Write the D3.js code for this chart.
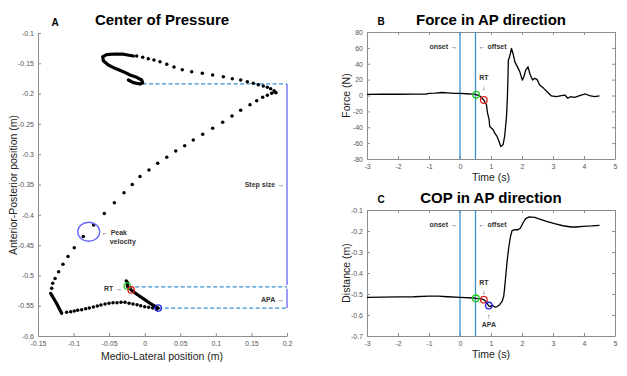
<!DOCTYPE html>
<html>
<head>
<meta charset="utf-8">
<script src="https://cdn.jsdelivr.net/npm/d3@7"></script>
<style>
  body { margin: 0; background: #fff; }
  text { font-family: "Liberation Sans", Arial, sans-serif; }
</style>
</head>
<body>
<svg id="fig"></svg>
<script>
const width = 627, height = 376;

// ---- Panel A: COP trajectory (m) ----
// quiet stance -> RT -> APA (dense samples)
const stanceX = [-0.026, -0.024, -0.0245, -0.019, -0.01, 0, 0.01, 0.019];
const stanceY = [-0.509, -0.512, -0.5175, -0.524, -0.532, -0.540, -0.548, -0.554];
// APA back to the corner (sparse samples)
const returnX = [0.0168, 0.0112, 0.0056, 0, -0.0056, -0.0108, -0.0165, -0.022, -0.0277, -0.0333, -0.039, -0.0446,
                 -0.0502, -0.0558, -0.0615, -0.0666, -0.0722, -0.0779, -0.083, -0.0886, -0.0942, -0.099, -0.104, -0.1097];
const returnY = [-0.556, -0.554, -0.5526, -0.5516, -0.550, -0.5483, -0.5472, -0.546, -0.5443, -0.5443, -0.545, -0.545,
                 -0.546, -0.5472, -0.5488, -0.5505, -0.552, -0.5538, -0.555, -0.5565, -0.5575, -0.5587, -0.56, -0.561];
// corner (dense)
const cornerX = [-0.1167, -0.124, -0.1322];
const cornerY = [-0.5625, -0.546, -0.5297];
// swing up to the step peak (sparse)
const swingX = [-0.1307, -0.1293, -0.126, -0.121, -0.1149, -0.1078, -0.099, -0.0863, -0.0717, -0.0568, -0.0427,
                -0.0291, -0.0175, -0.0066, 0.006, 0.0183, 0.031, 0.0436, 0.0562, 0.0683, 0.0815, 0.0955, 0.1096,
                0.1227, 0.1349, 0.148, 0.1574, 0.1658, 0.1723, 0.1785, 0.183];
const swingY = [-0.521, -0.513, -0.505, -0.494, -0.4817, -0.469, -0.4542, -0.436, -0.4168, -0.398, -0.380,
                -0.3635, -0.350, -0.337, -0.326, -0.315, -0.3051, -0.2947, -0.2859, -0.2766, -0.2672, -0.2573, -0.2473,
                -0.237, -0.2276, -0.2183, -0.2117, -0.2061, -0.2029, -0.1995, -0.1975];
// peak back towards the final stance (sparse)
const backX = [0.1845, 0.1817, 0.177, 0.1723, 0.1667, 0.1597, 0.1526, 0.1442, 0.1349, 0.1231, 0.1105, 0.0955,
               0.081, 0.066, 0.0528, 0.0412, 0.031, 0.0215, 0.013, 0.005, -0.0028, -0.0113];
const backY = [-0.1985, -0.1952, -0.1919, -0.1896, -0.1875, -0.1852, -0.183, -0.1803, -0.1776, -0.1754, -0.172, -0.1693,
               -0.1665, -0.1638, -0.1605, -0.156, -0.1515, -0.1473, -0.1446, -0.1424, -0.140, -0.138];
// final stance loop (dense)
const loopX = [-0.016, -0.030, -0.0418, -0.0535, -0.059, -0.0582, -0.0512, -0.0418, -0.030, -0.0207, -0.0113,
               -0.0042, -0.0028, -0.0066, -0.016, -0.023];
const loopY = [-0.138, -0.135, -0.1347, -0.1357, -0.139, -0.1457, -0.1528, -0.1583, -0.1638, -0.1693, -0.1731,
               -0.1776, -0.182, -0.1842, -0.182, -0.1776];

const eventColors = ["#1fcc1f", "#e02424", "#2424e0"];   // onset of movement, RT, APA
const eventAX = [-0.0245, -0.019, 0.019];
const eventAY = [-0.5175, -0.524, -0.554];
const stepTopY = -0.184, apaTopY = -0.519, apaBotY = -0.554;
const peakVel = { x: -0.0787, y: -0.428 };

// ---- Panel B: force in AP direction ----
const forceT = [-3, -2.5, -2, -1.5, -1.1, -1.0, -0.8, -0.6, -0.4, -0.2, 0, 0.2, 0.4, 0.52, 0.64, 0.77, 0.855, 0.887,
                0.94, 0.96, 1.01, 1.07, 1.12, 1.196, 1.26, 1.315, 1.39, 1.44, 1.5, 1.53, 1.55, 1.56, 1.6, 1.66, 1.71,
                1.77, 1.84, 1.93, 2.01, 2.06, 2.12, 2.195, 2.25, 2.34, 2.41, 2.485, 2.57, 2.7, 2.81, 2.95, 3.11, 3.27,
                3.38, 3.48, 3.56, 3.7, 3.86, 4.04, 4.18, 4.34, 4.5];
const forceN = [1.5, 1.8, 1.6, 1.7, 1.8, 2.8, 3.0, 3.8, 3.2, 2.7, 2.6, 2.2, 1.8, 1.0, -0.6, -5.6, -11.9, -22,
                -30.7, -39, -41, -43, -47.5, -51.6, -57.9, -64.2, -62, -51.6, -26.6, -1.5, 27.8, 44.5, 48.7, 59.2, 52.9,
                42.4, 37, 29.8, 19.4, 23.6, 32, 36.1, 27.8, 19.4, 21.6, 20.3, 13.2, 9.0, 4.8, -0.6, -1.5, -0.2,
                0.6, -3.5, -1.5, -2.3, -0.2, 1.9, -0.2, -1.5, -0.6];
const eventFT = [0.52, 0.77];
const eventFN = [1.0, -5.6];

// ---- Panel C: COP in AP direction ----
const copT = [-3, -2.5, -2, -1.5, -1.0, -0.7, -0.4, 0, 0.42, 0.51, 0.64, 0.77, 0.855, 0.92, 0.98, 1.05, 1.12, 1.2,
              1.28, 1.36, 1.41, 1.44, 1.48, 1.52, 1.57, 1.63, 1.68, 1.77, 1.87, 1.95, 2.03, 2.12, 2.23, 2.41, 2.57,
              2.79, 3.05, 3.32, 3.59, 3.75, 3.97, 4.24, 4.5];
const copD = [-0.516, -0.515, -0.514, -0.513, -0.510, -0.510, -0.513, -0.516, -0.519, -0.5205, -0.522, -0.527, -0.538,
              -0.556, -0.559, -0.554, -0.562, -0.560, -0.551, -0.535, -0.511, -0.471, -0.408, -0.344, -0.281, -0.225,
              -0.198, -0.194, -0.194, -0.186, -0.162, -0.141, -0.133, -0.135, -0.143, -0.154, -0.165, -0.175, -0.181,
              -0.181, -0.178, -0.176, -0.173];
const eventCT = [0.51, 0.77, 0.93];
const eventCD = [-0.5205, -0.527, -0.555];

const onsetT = 0, offsetT = 0.5;

const svg = d3.select("#fig").attr("width", width).attr("height", height);
svg.append("rect").attr("width", width).attr("height", height).attr("fill", "#fff");

const axisGray = "#8c8c8c", tickText = "#555", annoText = "#333";
const vlineColor = "#3a8fd0", stepColor = "#6464ff";

const fmt = d => String(+d.toFixed(2));

function styleAxis(g) {
  g.selectAll(".domain").attr("stroke", axisGray);
  g.selectAll(".tick line").attr("stroke", axisGray);
  g.selectAll("text").attr("fill", tickText).style("font-size", "7px");
}

function seg(xs, ys) { return xs.map((v, i) => [v, ys[i]]); }

// ================= Panel A =================
const xA = d3.scaleLinear([-0.15, 0.2], [38, 287]);
const yA = d3.scaleLinear([-0.6, -0.1], [336, 33]);
const gA = svg.append("g");

gA.append("g").attr("transform", `translate(0,${yA.range()[0]})`)
  .call(d3.axisBottom(xA).tickValues(d3.range(-0.15, 0.21, 0.05)).tickFormat(fmt).tickSizeInner(-3).tickSizeOuter(0).tickPadding(5))
  .call(styleAxis);
gA.append("g").attr("transform", `translate(${xA.range()[0]},0)`)
  .call(d3.axisLeft(yA).tickValues(d3.range(-0.6, -0.09, 0.05)).tickFormat(fmt).tickSizeInner(-3).tickSizeOuter(0).tickPadding(4))
  .call(styleAxis);

// dashed reference lines
const dash = [[eventAX[0] + 0.002, apaTopY], [eventAX[2], apaBotY], [-0.003, stepTopY]];
dash.forEach(([x0, y]) => {
  gA.append("line").attr("x1", xA(x0)).attr("x2", xA(0.2)).attr("y1", yA(y)).attr("y2", yA(y))
    .attr("stroke", vlineColor).attr("stroke-width", 1.3).attr("stroke-dasharray", "4,2.5");
});
// step size / APA bars
gA.append("line").attr("x1", xA(0.2)).attr("x2", xA(0.2)).attr("y1", yA(stepTopY)).attr("y2", yA(apaTopY + 0.003))
  .attr("stroke", stepColor).attr("stroke-width", 1.3);
gA.append("line").attr("x1", xA(0.2)).attr("x2", xA(0.2)).attr("y1", yA(apaTopY - 0.003)).attr("y2", yA(apaBotY))
  .attr("stroke", stepColor).attr("stroke-width", 1.3);

const lineA = d3.line().x(d => xA(d[0])).y(d => yA(d[1]));
[seg(stanceX, stanceY), seg(cornerX, cornerY), seg(loopX, loopY)].forEach(pts => {
  gA.append("path").attr("d", lineA(pts)).attr("fill", "none").attr("stroke", "#000")
    .attr("stroke-width", 3.2).attr("stroke-linecap", "round").attr("stroke-linejoin", "round");
});
const dots = [].concat(seg(returnX, returnY), seg(swingX, swingY), seg(backX, backY));
gA.selectAll("circle.dot").data(dots).enter().append("circle").attr("class", "dot")
  .attr("cx", d => xA(d[0])).attr("cy", d => yA(d[1])).attr("r", 1.75).attr("fill", "#000");

gA.selectAll("circle.ev").data(eventAX).enter().append("circle").attr("class", "ev")
  .attr("cx", d => xA(d)).attr("cy", (d, i) => yA(eventAY[i])).attr("r", 3.2)
  .attr("fill", "none").attr("stroke", (d, i) => eventColors[i]).attr("stroke-width", 1.3);

gA.append("ellipse").attr("cx", xA(peakVel.x)).attr("cy", yA(peakVel.y)).attr("rx", 11).attr("ry", 9.5)
  .attr("fill", "none").attr("stroke", stepColor).attr("stroke-width", 1.3);

const anno = (g, x, y, txt, anchor) => g.append("text").attr("x", x).attr("y", y).attr("text-anchor", anchor || "start")
  .attr("fill", annoText).style("font-size", "7px").style("font-weight", "bold").text(txt);

anno(gA, xA(peakVel.x) + 13, yA(peakVel.y) + 3, "\u2190 Peak");
anno(gA, xA(peakVel.x) + 21, yA(peakVel.y) + 12, "velocity");
anno(gA, xA(eventAX[0]) - 5, yA(eventAY[0]) + 5, "RT \u2192", "end");
anno(gA, xA(0.2) - 3, yA(-0.35) + 2.5, "Step size \u2192", "end");
anno(gA, xA(0.2) - 3, yA(-0.54) + 2.5, "APA \u2192", "end");

gA.append("text").attr("x", 162).attr("y", 360).attr("text-anchor", "middle").attr("fill", "#222")
  .style("font-size", "10.5px").text("Medio-Lateral position (m)");
gA.append("text").attr("transform", "translate(17,185) rotate(-90)").attr("text-anchor", "middle").attr("fill", "#222")
  .style("font-size", "10.5px").text("Anterior-Posterior position (m)");
gA.append("text").attr("x", 162).attr("y", 25).attr("text-anchor", "middle").attr("fill", "#000")
  .style("font-size", "15px").style("font-weight", "bold").text("Center of Pressure");
gA.append("text").attr("x", 55).attr("y", 25.5).attr("text-anchor", "middle").attr("fill", "#000")
  .style("font-size", "10px").style("font-weight", "bold").text("A");

// ================= Panels B and C =================
function timePanel(opt) {
  const x = d3.scaleLinear([-3, 5], [367, 615]);
  const y = d3.scaleLinear(opt.domain, [opt.bottom, opt.top]);
  const g = svg.append("g");
  const tx = d3.range(-3, 5.1, 1);
  g.append("g").attr("transform", `translate(0,${opt.bottom})`)
    .call(d3.axisBottom(x).tickValues(tx).tickFormat(fmt).tickSizeInner(-3).tickSizeOuter(0).tickPadding(5)).call(styleAxis);
  g.append("g").attr("transform", `translate(0,${opt.top})`)
    .call(d3.axisTop(x).tickValues(tx).tickFormat("").tickSizeInner(-3).tickSizeOuter(0)).call(styleAxis);
  g.append("g").attr("transform", `translate(367,0)`)
    .call(d3.axisLeft(y).tickValues(opt.ticks).tickFormat(opt.fmt).tickSizeInner(-3).tickSizeOuter(0).tickPadding(4)).call(styleAxis);
  g.append("g").attr("transform", `translate(615,0)`)
    .call(d3.axisRight(y).tickValues(opt.ticks).tickFormat("").tickSizeInner(-3).tickSizeOuter(0)).call(styleAxis);

  [onsetT, offsetT].forEach(t => g.append("line").attr("x1", x(t)).attr("x2", x(t))
    .attr("y1", opt.top).attr("y2", opt.bottom).attr("stroke", vlineColor).attr("stroke-width", 1.3));

  g.append("path").attr("d", d3.line().x(d => x(d[0])).y(d => y(d[1]))(seg(opt.t, opt.v)))
    .attr("fill", "none").attr("stroke", "#000").attr("stroke-width", 1.3).attr("stroke-linejoin", "round");

  g.selectAll("circle.ev").data(opt.evT).enter().append("circle").attr("class", "ev")
    .attr("cx", d => x(d)).attr("cy", (d, i) => y(opt.evV[i])).attr("r", 3.3)
    .attr("fill", "none").attr("stroke", (d, i) => eventColors[i]).attr("stroke-width", 1.3);

  anno(g, x(onsetT) - 3, opt.top + 17, "onset \u2192", "end");
  anno(g, x(offsetT) + 3, opt.top + 17, "\u2190 offset");

  g.append("text").attr("x", 491).attr("y", opt.bottom + 22).attr("text-anchor", "middle").attr("fill", "#222")
    .style("font-size", "10.5px").text("Time (s)");
  g.append("text").attr("transform", `translate(350,${(opt.top + opt.bottom) / 2}) rotate(-90)`).attr("text-anchor", "middle")
    .attr("fill", "#222").style("font-size", "10.5px").text(opt.ylabel);
  g.append("text").attr("x", 491).attr("y", opt.top - 7).attr("text-anchor", "middle").attr("fill", "#000")
    .style("font-size", "15px").style("font-weight", "bold").text(opt.title);
  g.append("text").attr("x", 381).attr("y", opt.top - 7).attr("text-anchor", "middle").attr("fill", "#000")
    .style("font-size", "10px").style("font-weight", "bold").text(opt.letter);
  return { g, x, y };
}

const B = timePanel({ top: 32, bottom: 159, domain: [-80, 80], ticks: d3.range(-80, 81, 20), fmt: fmt,
  t: forceT, v: forceN, evT: eventFT, evV: eventFN, ylabel: "Force (N)", title: "Force in AP direction", letter: "B" });
anno(B.g, B.x(eventFT[1]), B.y(eventFN[1]) - 20, "RT", "middle");
anno(B.g, B.x(eventFT[1]), B.y(eventFN[1]) - 10, "\u2193", "middle");

const C = timePanel({ top: 210, bottom: 336, domain: [-0.7, -0.1], ticks: d3.range(-0.7, -0.09, 0.1), fmt: d => d.toFixed(1),
  t: copT, v: copD, evT: eventCT, evV: eventCD, ylabel: "Distance (m)", title: "COP in AP direction", letter: "C" });
anno(C.g, C.x(eventCT[1]), C.y(eventCD[1]) - 15, "RT", "middle");
anno(C.g, C.x(eventCT[1]), C.y(eventCD[1]) - 6, "\u2193", "middle");
anno(C.g, C.x(eventCT[2]), C.y(eventCD[2]) + 13, "\u2191", "middle");
anno(C.g, C.x(eventCT[2]), C.y(eventCD[2]) + 21, "APA", "middle");
</script>
</body>
</html>
